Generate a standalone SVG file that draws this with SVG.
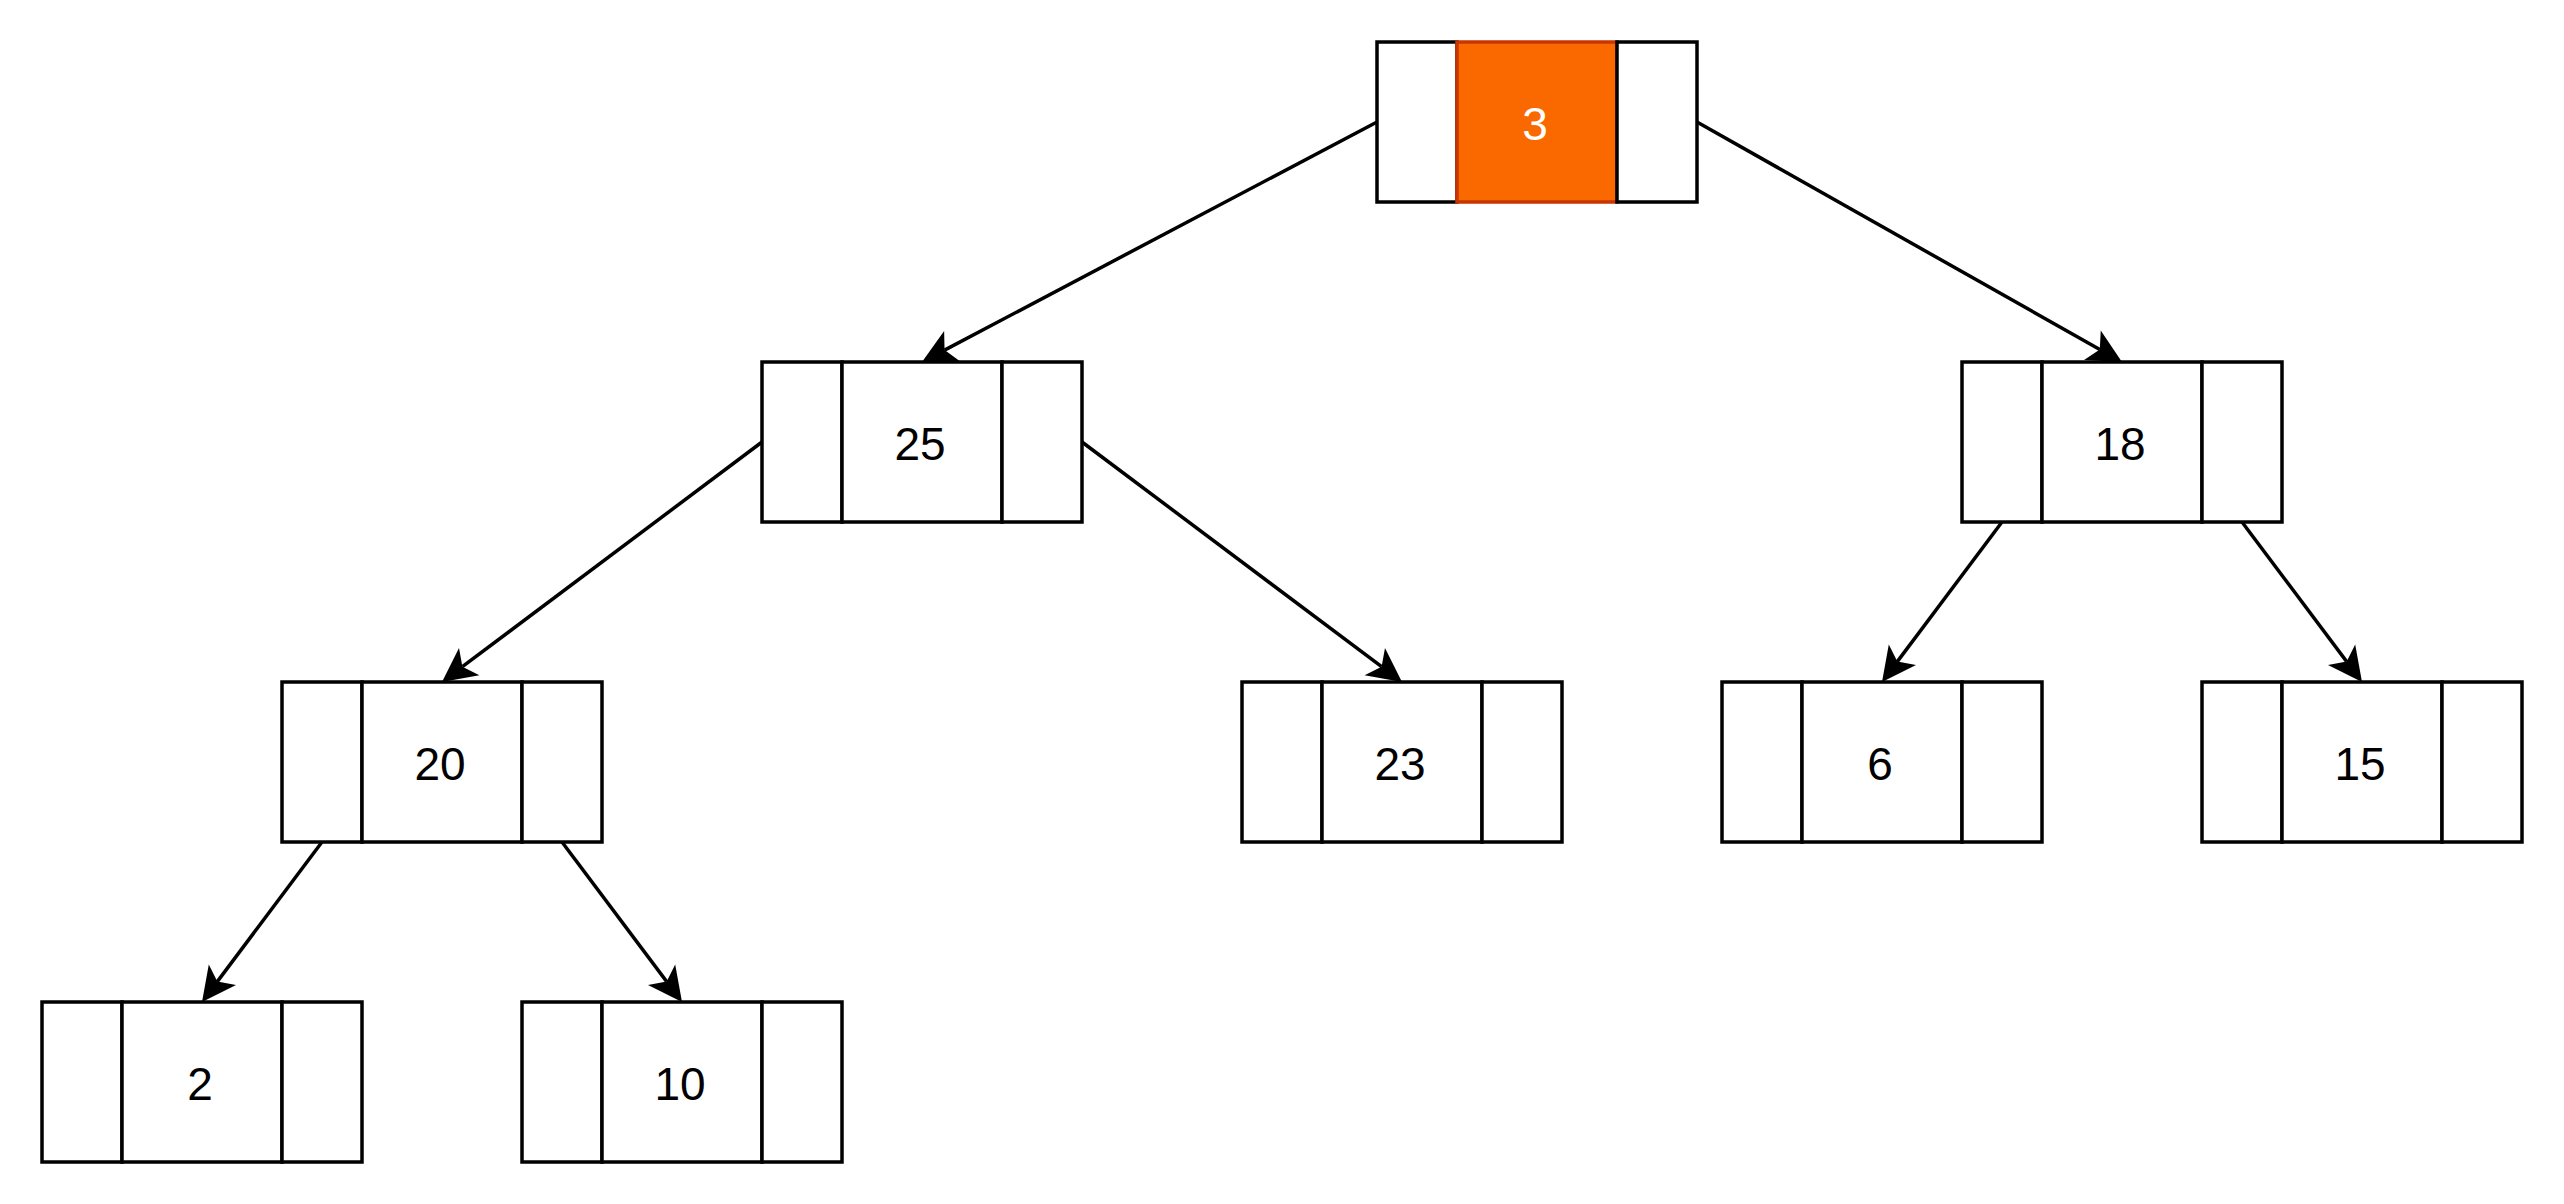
<svg xmlns="http://www.w3.org/2000/svg" width="2564" height="1204" viewBox="0 0 2564 1204">
  <style>
    .cell { fill: #ffffff; stroke: #000000; stroke-width: 3.5; }
    .hot { fill: #fa6800; stroke: #c73500; stroke-width: 3.5; }
    .lbl { font-family: "Liberation Sans", Helvetica, Arial, sans-serif; font-size: 46px; fill: #000000; text-anchor: middle; }
    .lbl-w { fill: #ffffff; }
    .edge { fill: none; stroke: #000000; stroke-width: 3.5; }
  </style>
  <defs>
    <marker id="arrow" markerUnits="userSpaceOnUse" viewBox="0 -18 36 36" markerWidth="36" markerHeight="36" refX="8.5" refY="0" orient="auto" overflow="visible">
      <path d="M34,0 L0,-17 L8.5,0 L0,17 Z" fill="#000000" stroke="none"/>
    </marker>
  </defs>
  <rect width="2564" height="1204" fill="#ffffff"/>

  <g id="connectors">
    <path class="edge" d="M1377,122 L944.55,350.1" marker-end="url(#arrow)"/>
    <path class="edge" d="M1697,122 L2099.8,349.5" marker-end="url(#arrow)"/>
    <path class="edge" d="M762,442 L462.4,666.7" marker-end="url(#arrow)"/>
    <path class="edge" d="M1082,442 L1381.6,666.7" marker-end="url(#arrow)"/>
    <path class="edge" d="M2002,522 L1897.3,661.6" marker-end="url(#arrow)"/>
    <path class="edge" d="M2242,522 L2346.7,661.6" marker-end="url(#arrow)"/>
    <path class="edge" d="M322,842 L217.3,981.6" marker-end="url(#arrow)"/>
    <path class="edge" d="M562,842 L666.7,981.6" marker-end="url(#arrow)"/>
  </g>

  <g id="node-3">
    <rect class="cell" x="1377" y="42" width="80" height="160"/>
    <rect class="hot" x="1457" y="42" width="160" height="160"/>
    <rect class="cell" x="1617" y="42" width="80" height="160"/>
    <text class="lbl lbl-w" x="1535" y="140">3</text>
  </g>

  <g id="node-25">
    <rect class="cell" x="762" y="362" width="80" height="160"/>
    <rect class="cell" x="842" y="362" width="160" height="160"/>
    <rect class="cell" x="1002" y="362" width="80" height="160"/>
    <text class="lbl" x="920" y="460">25</text>
  </g>

  <g id="node-18">
    <rect class="cell" x="1962" y="362" width="80" height="160"/>
    <rect class="cell" x="2042" y="362" width="160" height="160"/>
    <rect class="cell" x="2202" y="362" width="80" height="160"/>
    <text class="lbl" x="2120" y="460">18</text>
  </g>

  <g id="node-20">
    <rect class="cell" x="282" y="682" width="80" height="160"/>
    <rect class="cell" x="362" y="682" width="160" height="160"/>
    <rect class="cell" x="522" y="682" width="80" height="160"/>
    <text class="lbl" x="440" y="780">20</text>
  </g>

  <g id="node-23">
    <rect class="cell" x="1242" y="682" width="80" height="160"/>
    <rect class="cell" x="1322" y="682" width="160" height="160"/>
    <rect class="cell" x="1482" y="682" width="80" height="160"/>
    <text class="lbl" x="1400" y="780">23</text>
  </g>

  <g id="node-6">
    <rect class="cell" x="1722" y="682" width="80" height="160"/>
    <rect class="cell" x="1802" y="682" width="160" height="160"/>
    <rect class="cell" x="1962" y="682" width="80" height="160"/>
    <text class="lbl" x="1880" y="780">6</text>
  </g>

  <g id="node-15">
    <rect class="cell" x="2202" y="682" width="80" height="160"/>
    <rect class="cell" x="2282" y="682" width="160" height="160"/>
    <rect class="cell" x="2442" y="682" width="80" height="160"/>
    <text class="lbl" x="2360" y="780">15</text>
  </g>

  <g id="node-2">
    <rect class="cell" x="42" y="1002" width="80" height="160"/>
    <rect class="cell" x="122" y="1002" width="160" height="160"/>
    <rect class="cell" x="282" y="1002" width="80" height="160"/>
    <text class="lbl" x="200" y="1100">2</text>
  </g>

  <g id="node-10">
    <rect class="cell" x="522" y="1002" width="80" height="160"/>
    <rect class="cell" x="602" y="1002" width="160" height="160"/>
    <rect class="cell" x="762" y="1002" width="80" height="160"/>
    <text class="lbl" x="680" y="1100">10</text>
  </g>
</svg>
